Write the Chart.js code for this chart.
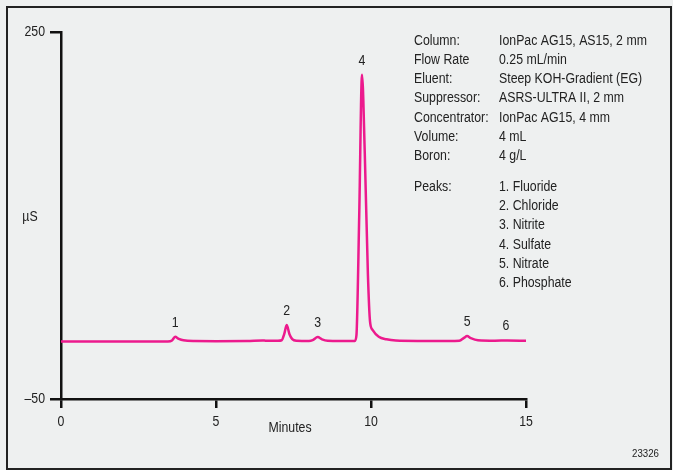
<!DOCTYPE html>
<html>
<head>
<meta charset="utf-8">
<script src="https://cdn.jsdelivr.net/npm/chart.js@4.4.0/dist/chart.umd.min.js"></script>
<style>
    body { margin: 0; background: #eef0f0; }
    #wrap { width: 673px; height: 470px; }
</style>
</head>
<body>
<div id="wrap"><canvas id="chart" width="673" height="470"></canvas></div>
<script>
// Chromatogram trace (minutes, µS)
var times = [0, 1, 2, 3, 3.45, 3.58, 3.68, 3.8, 3.95, 4.3, 5, 6, 6.5, 6.6, 7.0, 7.12, 7.2, 7.28, 7.37, 7.46, 7.6,
    8.0, 8.12, 8.28, 8.42, 8.6, 9.0, 9.48, 9.53, 9.62, 9.71, 9.8, 9.9, 9.97, 10.05, 10.25, 10.5, 10.8,
    11.5, 12.5, 12.85, 13.0, 13.1, 13.22, 13.45, 14, 14.4, 15];
var signal = [-3.0, -3.0, -3.0, -3.0, -3.0, -2.2, 0.8, -0.8, -2.0, -2.6, -2.7, -2.6, -2.2, -2.3, -2.4, -2.0, 3, 10.4, 3, -1.0, -2.3,
    -2.5, -1.8, 0.6, -1.2, -2.3, -2.5, -2.5, 2, 100, 215, 150, 52, 13, 6.5, 0.8, -1.2, -2.2,
    -2.5, -2.5, -2.3, 0, 1.4, -0.2, -1.9, -2.3, -2.2, -2.4];

// Peak labels
var peakNums = ['1', '2', '3', '4', '5', '6'];
var peakTimes = [3.68, 7.28, 8.28, 9.71, 13.1, 14.35];
var peakValues = [0.8, 10.4, 0.6, 215, 1.4, -2.2];

// Axis ticks
var yTicks = [-50, 250];
var xTicks = [0, 5, 10, 15];

// Conditions block
var condLabels = ['Column:', 'Flow Rate', 'Eluent:', 'Suppressor:', 'Concentrator:', 'Volume:', 'Boron:'];
var condValues = ['IonPac AG15, AS15, 2 mm', '0.25 mL/min', 'Steep KOH-Gradient (EG)', 'ASRS-ULTRA II, 2 mm',
    'IonPac AG15, 4 mm', '4 mL', '4 g/L'];
var peakNames = ['1. Fluoride', '2. Chloride', '3. Nitrite', '4. Sulfate', '5. Nitrate', '6. Phosphate'];

var FONT = "'Liberation Sans', Arial, sans-serif";
var SX = 0.88; // squeeze to mimic the condensed face
var INK = '#222';

var points = times.map(function (t, i) { return { x: t, y: signal[i] }; });

// draw narrow text
function say(ctx, txt, x, y, align, size) {
    ctx.save();
    ctx.font = size + 'px ' + FONT;
    ctx.fillStyle = INK;
    ctx.textBaseline = 'middle';
    ctx.textAlign = align;
    ctx.translate(x, y);
    ctx.scale(SX, 1);
    ctx.fillText(txt, 0, 0);
    ctx.restore();
}

function fmtTick(v) { return v < 0 ? '\u2013' + Math.abs(v) : String(v); }

var decorPlugin = {
    id: 'decor',
    beforeDraw: function (chart) {
        var ctx = chart.ctx;
        ctx.save();
        ctx.fillStyle = '#eef0f0';
        ctx.fillRect(0, 0, chart.width, chart.height);
        ctx.strokeStyle = '#222';
        ctx.lineWidth = 2;
        ctx.strokeRect(7, 7, 664, 462);
        ctx.restore();
    },
    afterDraw: function (chart) {
        var ctx = chart.ctx;
        var xs = chart.scales.x, ys = chart.scales.y;

        // tick labels from the scales
        xs.ticks.forEach(function (t) {
            say(ctx, fmtTick(t.value), xs.getPixelForValue(t.value), ys.bottom + 23, 'center', 14);
        });
        ys.ticks.forEach(function (t) {
            say(ctx, fmtTick(t.value), xs.left - 16, ys.getPixelForValue(t.value), 'right', 14);
        });
        say(ctx, 'Minutes', 290, 428, 'center', 14);
        say(ctx, '\u00b5S', 30, 217, 'center', 14);

        // peak numbers
        peakNums.forEach(function (n, i) {
            say(ctx, n, xs.getPixelForValue(peakTimes[i]), ys.getPixelForValue(peakValues[i]) - 14, 'center', 14);
        });

        // conditions
        condLabels.forEach(function (l, i) {
            say(ctx, l, 414, 41 + i * 19.2, 'left', 14);
            say(ctx, condValues[i], 499, 41 + i * 19.2, 'left', 14);
        });
        say(ctx, 'Peaks:', 414, 187, 'left', 14);
        peakNames.forEach(function (p, i) {
            say(ctx, p, 499, 187 + i * 19.3, 'left', 14);
        });

        say(ctx, '23326', 659, 454, 'right', 11);
    }
};

new Chart(document.getElementById('chart'), {
    type: 'line',
    data: {
        datasets: [{
            data: points,
            borderColor: '#ec1a8d',
            borderWidth: 2.5,
            pointRadius: 0,
            cubicInterpolationMode: 'monotone',
            fill: false
        }]
    },
    options: {
        responsive: false,
        animation: false,
        events: [],
        layout: { padding: { left: 0, top: 32, right: 147, bottom: 0 } },
        plugins: { legend: { display: false }, tooltip: { enabled: false } },
        scales: {
            x: {
                type: 'linear',
                min: 0,
                max: 15,
                afterBuildTicks: function (s) { s.ticks = xTicks.map(function (v) { return { value: v }; }); },
                afterFit: function (s) { s.height = 71; },
                ticks: { display: false },
                grid: { drawOnChartArea: false, color: '#111', lineWidth: 2.5, tickLength: 9 },
                border: { display: true, color: '#111', width: 2.5 }
            },
            y: {
                min: -50,
                max: 250,
                afterBuildTicks: function (s) { s.ticks = yTicks.map(function (v) { return { value: v }; }); },
                afterFit: function (s) { s.width = 61; },
                ticks: { display: false },
                grid: { drawOnChartArea: false, color: '#111', lineWidth: 2.5, tickLength: 11 },
                border: { display: true, color: '#111', width: 2.5 }
            }
        }
    },
    plugins: [decorPlugin]
});
</script>
</body>
</html>
